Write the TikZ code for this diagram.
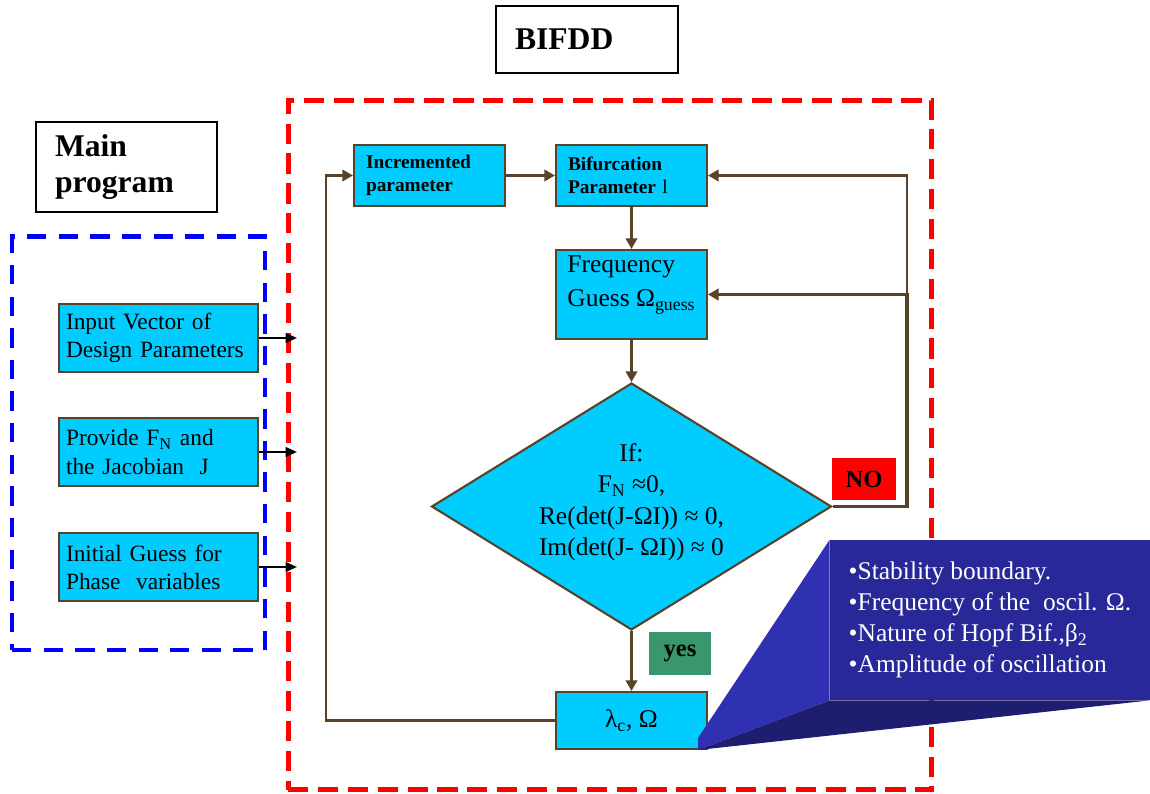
\documentclass[tikz,border=0pt]{standalone}
\usepackage{fontspec}
\setmainfont{Liberation Serif}
\usepackage{xcolor}
\usepackage{tikz}
\usetikzlibrary{shapes.geometric, arrows.meta, positioning, calc}
\definecolor{bfcyan}{RGB}{0,204,255}
\definecolor{bfbrown}{RGB}{88,66,42}
\definecolor{bfred}{RGB}{255,0,0}
\definecolor{bfblue}{RGB}{0,0,255}
\definecolor{bfgreen}{RGB}{58,150,108}
\definecolor{bfnavy}{RGB}{40,40,152}
\definecolor{bfside}{RGB}{48,48,178}
\definecolor{bfshade}{RGB}{30,30,112}

\begin{document}
\begin{tikzpicture}[x=0.02cm, y=-0.02cm,
  every node/.style={font=\fontsize{13.3}{16}\selectfont},
  title/.style={rectangle, draw=black, line width=0.9pt, align=left,
                font=\bfseries\fontsize{18}{21}\selectfont, inner xsep=0.38cm},
  zone/.style={rectangle, line width=2.8pt, inner sep=0pt},
  blk/.style={rectangle, draw=bfbrown, fill=bfcyan, line width=1.2pt,
              align=left, inner ysep=2pt},
  inbox/.style={blk, text width=3.7cm, inner xsep=0.14cm,
                minimum height=1.36cm},
  parblk/.style={blk, text width=2.54cm, inner xsep=0.24cm,
                 minimum height=1.22cm,
                 font=\bfseries\fontsize{11}{13}\selectfont},
  cond/.style={diamond, draw=bfbrown, fill=bfcyan, line width=1.2pt,
               aspect=1.62, inner sep=0pt, minimum width=8cm,
               minimum height=4.94cm, align=center, text depth=8pt,
               font=\fontsize{14.5}{18}\selectfont},
  tag/.style={rectangle, inner sep=0pt,
              font=\bfseries\fontsize{14}{16}\selectfont},
  note/.style={rectangle, fill=bfnavy, text=white, align=left,
               minimum width=6.4cm, minimum height=3.2cm,
               font=\fontsize{14.5}{17.6}\selectfont},
  flow/.style={-{Triangle[length=6pt, width=6.5pt]}, line width=1.3pt,
               color=bfbrown},
  feed/.style={-{Triangle[length=6.5pt, width=5.5pt]}, line width=1.2pt,
               color=black},
]
\useasboundingbox (0,0) rectangle (1150,794);

% Frames
\node[zone, draw=bfblue, dash pattern=on 11pt off 7pt,
      minimum width=5.06cm, minimum height=8.28cm] (mainzone) at (138.5,443) {};
\node[zone, draw=bfred, dash pattern=on 11.5pt off 5.5pt,
      minimum width=12.88cm, minimum height=13.8cm] (bifzone) at (610,445) {};

% Titles
\node[title, text width=2.88cm, minimum height=1.34cm] (bifdd) at (587,39.5) {BIFDD};
\node[title, text width=2.86cm, minimum height=1.8cm] (mainprog) at (126.5,167) {Main\\program};

% Main program inputs
\node[inbox] (invec) at (158.5,338) {Input Vector of\\Design Parameters};
\node[inbox] (prov)  at (158.5,452) {Provide F\textsubscript{N} and\\the Jacobian\ \ J};
\node[inbox] (initg) at (158.5,567) {Initial Guess for\\Phase\ \ variables};

% BIFDD blocks
\node[parblk] (incr)   at (429.5,175.5) {Incremented\\parameter};
\node[parblk] (bifpar) at (631.5,175.5) {Bifurcation\\Parameter {\mdseries l}};
\node[blk, minimum width=3.02cm, minimum height=1.78cm,
      text depth=15pt, font=\fontsize{14.5}{19}\selectfont]
      (freq) at (631.5,294.5) {Frequency\\Guess Ω\textsubscript{guess}};
\node[cond] (dia) at (631.5,506.5)
      {If:\\F\textsubscript{N} ≈0,\\Re(det(J-ΩI)) ≈ 0,\\Im(det(J- ΩI)) ≈ 0};
\node[blk, align=center, minimum width=3.02cm,
      minimum height=1.14cm, font=\fontsize{14.5}{17}\selectfont]
      (lam) at (631.5,720.5) {λ\textsubscript{c}, Ω};

% Decisions
\node[tag, fill=bfred, minimum width=1.28cm, minimum height=0.84cm] (no) at (864,479) {NO};
\node[tag, fill=bfgreen, minimum width=1.24cm, minimum height=0.86cm] (yes) at (680,653.5) {yes};

% ── Helper points ──
\coordinate (ent) at (297,338);
\coordinate (lp)  at (326,720.5);
\coordinate (jn)  at (907,294.5);

% ── Inputs to BIFDD ──
\draw[feed] (invec.east) -- (invec.east -| ent);
\draw[feed] (prov.east)  -- (prov.east -| ent);
\draw[feed] (initg.east) -- (initg.east -| ent);

% ── Main flow ──
\draw[flow] (incr) -- (bifpar);
\draw[flow] (bifpar) -- (freq);
\draw[flow] (freq) -- (dia);
\draw[flow] (dia) -- (lam);

% ── Loops ──
\draw[flow] (lam.west) -- (lp) |- (incr.west);
\draw[flow, line width=1.8pt] (dia.east) -| (jn) -- (freq.east);
\draw[flow] (jn) |- (bifpar.east);

% Result callout
\node[note] (res) at (990,620)
      {•Stability boundary.\\•Frequency of the\ \ oscil. Ω.\\•Nature of Hopf Bif.,β\textsubscript{2}\\•Amplitude of oscillation};
\coordinate (tipup) at (698,738);
\coordinate (tip)   at (698,750);
\fill[bfside] (res.north west) -- (tipup) -- (tip) -- (res.south west) -- cycle;
\fill[bfshade] (tip) -- (res.south west) -- (res.south east) -- cycle;

\end{tikzpicture}
\end{document}
